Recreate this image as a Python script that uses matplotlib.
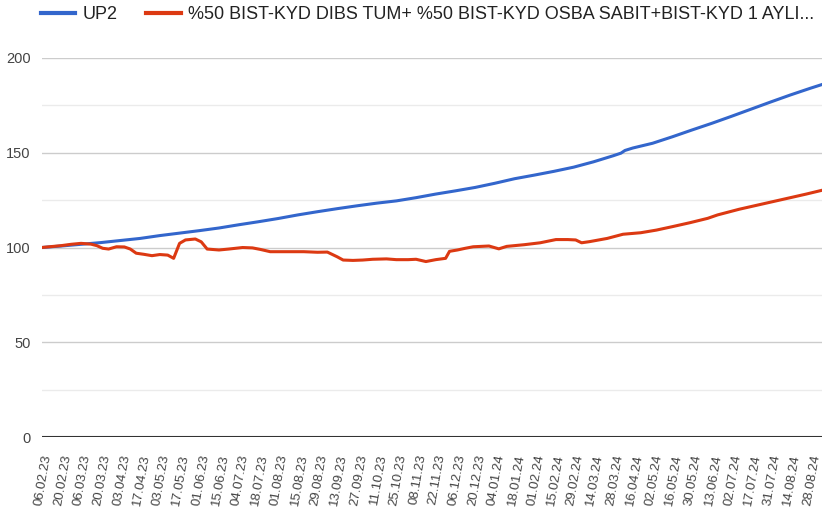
import matplotlib
matplotlib.use("Agg")
import matplotlib.pyplot as plt

plt.rcParams['font.family'] = ['Liberation Sans', 'DejaVu Sans']

# x axis: trading day index, labels every 10 days
tick_labels = ['06.02.23', '20.02.23', '06.03.23', '20.03.23', '03.04.23', '17.04.23',
               '03.05.23', '17.05.23', '01.06.23', '15.06.23', '04.07.23', '18.07.23',
               '01.08.23', '15.08.23', '29.08.23', '13.09.23', '27.09.23', '11.10.23',
               '25.10.23', '08.11.23', '22.11.23', '06.12.23', '20.12.23', '04.01.24',
               '18.01.24', '01.02.24', '15.02.24', '29.02.24', '14.03.24', '28.03.24',
               '16.04.24', '02.05.24', '16.05.24', '30.05.24', '13.06.24', '02.07.24',
               '17.07.24', '31.07.24', '14.08.24', '28.08.24']

up2_x = [0, 10, 20, 30, 40, 50, 60, 70, 80, 90, 100, 110, 120, 130, 140, 150, 160,
         170, 180, 190, 200, 210, 220, 230, 240, 250, 260, 270, 280, 290, 294, 296,
         300, 310, 320, 330, 340, 350, 360, 370, 380, 390, 396]
up2_y = [100, 100.8, 101.7, 102.6, 103.7, 104.8, 106.3, 107.6, 108.9, 110.3, 112,
         113.6, 115.3, 117.2, 118.9, 120.5, 122, 123.4, 124.6, 126.3, 128.2, 129.9,
         131.7, 133.9, 136.3, 138.2, 140.2, 142.4, 145.2, 148.4, 149.8, 151.2, 152.5,
         155, 158.4, 162, 165.5, 169.2, 173, 176.8, 180.5, 184, 186]

bench_x = [0, 5, 10, 15, 20, 25, 28, 31, 34, 38, 42, 45, 48, 52, 56, 60, 64, 67, 70,
           73, 78, 81, 84, 90, 95, 102, 107, 111, 116, 125, 133, 140, 145, 150, 153,
           158, 163, 168, 175, 180, 186, 190, 195, 200, 205, 207, 211, 215, 219, 227,
           232, 236, 245, 253, 261, 267, 271, 274, 278, 287, 295, 304, 312, 320, 329,
           338, 343, 354, 371, 388, 396]
bench_y = [100, 100.5, 101, 101.7, 102.2, 101.8, 101, 99.6, 99.2, 100.4, 100.3, 99.2,
           97, 96.4, 95.7, 96.3, 96, 94.3, 102.2, 104, 104.5, 103, 99.2, 98.7, 99.2,
           100, 99.8, 99, 97.8, 97.8, 97.8, 97.5, 97.6, 95.1, 93.4, 93.2, 93.4, 93.8,
           94, 93.6, 93.6, 93.8, 92.6, 93.6, 94.3, 98, 98.7, 99.6, 100.4, 100.8, 99.3,
           100.6, 101.5, 102.5, 104.2, 104.2, 104, 102.5, 103.1, 104.8, 107, 107.8,
           109.2, 111, 113.1, 115.4, 117.2, 120.2, 124.2, 128.2, 130.2]

fig = plt.figure(figsize=(8.32, 5.13), dpi=100)
ax = fig.add_axes([0.050, 0.148, 0.938, 0.739])

for v in [25, 75, 125, 175]:
    ax.axhline(v, color='#ebebeb', lw=1, zorder=0)
for v in [50, 100, 150, 200]:
    ax.axhline(v, color='#cccccc', lw=1, zorder=0)
ax.axhline(0, color='#333333', lw=1.5, zorder=1)

ax.plot(up2_x, up2_y, color='#3366cc', lw=2.2, label='UP2', zorder=3)
ax.plot(bench_x, bench_y, color='#dc3912', lw=2.2,
        label='%50 BIST-KYD DIBS TUM+ %50 BIST-KYD OSBA SABIT+BIST-KYD 1 AYLI...', zorder=3)

ax.set_xlim(0, 396)
ax.set_ylim(0, 200)
ax.set_yticks([0, 50, 100, 150, 200])
ax.set_xticks(range(0, 10 * len(tick_labels), 10))
ax.set_xticklabels(tick_labels, rotation=80, ha='right', va='top',
                   rotation_mode='anchor', fontsize=9.5, color='#444444')
ax.tick_params(axis='both', length=0)
ax.tick_params(axis='x', pad=12)
ax.tick_params(axis='y', labelsize=10.5, labelcolor='#444444', pad=8)
for s in ax.spines.values():
    s.set_visible(False)

leg = ax.legend(loc='center left', bbox_to_anchor=(41 / 832, 1 - 15 / 513),
                bbox_transform=fig.transFigure, ncol=2, frameon=False,
                fontsize=13, labelcolor='#222222', handlelength=1.9,
                handletextpad=0.4, columnspacing=1.6, borderpad=0, borderaxespad=0)
for h in leg.get_lines():
    h.set_linewidth(3)

fig.savefig('out.png', dpi=100)
